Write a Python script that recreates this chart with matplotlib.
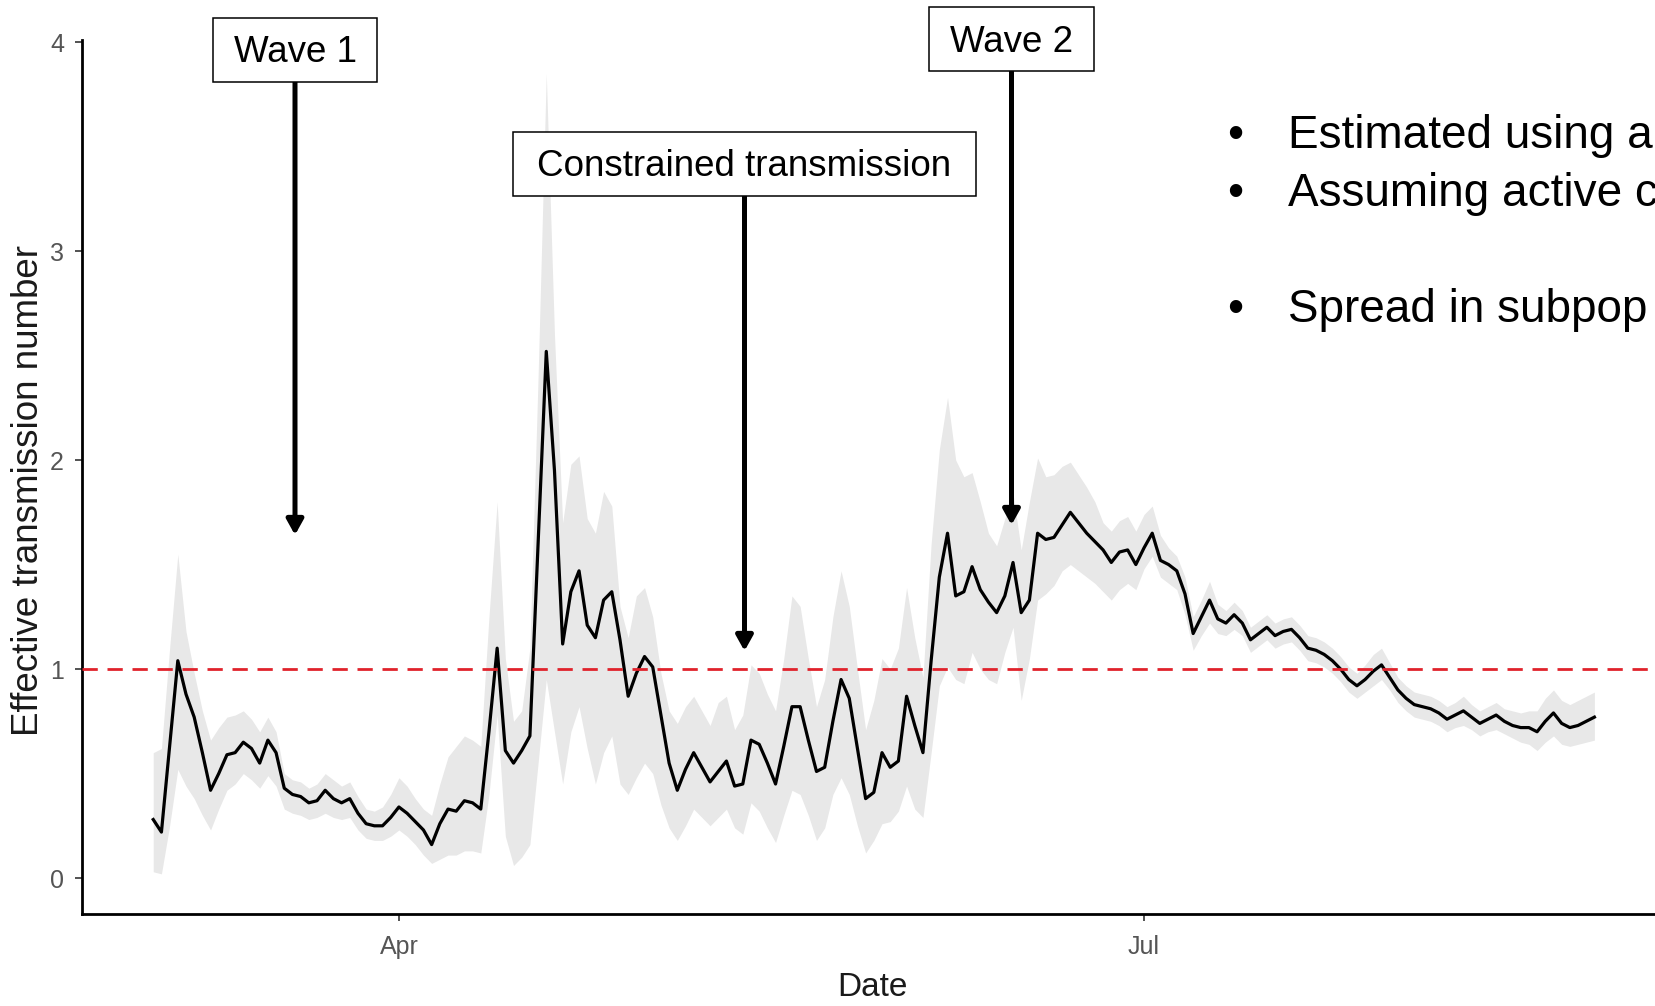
import numpy as np
import matplotlib
matplotlib.use("Agg")
import matplotlib.pyplot as plt
import matplotlib.dates as mdates
from matplotlib.patches import Rectangle

plt.rcParams['font.family'] = ['Liberation Sans', 'DejaVu Sans']

# Daily estimates, first day 2020-03-02
start_date = '2020-03-02'

r_mid = [
    0.28, 0.22, 0.63, 1.04, 0.88, 0.77, 0.60, 0.42, 0.50, 0.59,
    0.60, 0.65, 0.62, 0.55, 0.66, 0.60, 0.43, 0.40, 0.39, 0.36,
    0.37, 0.42, 0.38, 0.36, 0.38, 0.31, 0.26, 0.25, 0.25, 0.29,
    0.34, 0.31, 0.27, 0.23, 0.16, 0.26, 0.33, 0.32, 0.37, 0.36,
    0.33, 0.70, 1.10, 0.61, 0.55, 0.61, 0.68, 1.60, 2.52, 1.95,
    1.12, 1.37, 1.47, 1.21, 1.15, 1.33, 1.37, 1.14, 0.87, 0.98,
    1.06, 1.01, 0.78, 0.55, 0.42, 0.52, 0.60, 0.53, 0.46, 0.51,
    0.56, 0.44, 0.45, 0.66, 0.64, 0.55, 0.45, 0.63, 0.82, 0.82,
    0.66, 0.51, 0.53, 0.75, 0.95, 0.86, 0.62, 0.38, 0.41, 0.60,
    0.53, 0.56, 0.87, 0.73, 0.60, 1.04, 1.44, 1.65, 1.35, 1.37,
    1.49, 1.38, 1.32, 1.27, 1.35, 1.51, 1.27, 1.33, 1.65, 1.62,
    1.63, 1.69, 1.75, 1.70, 1.65, 1.61, 1.57, 1.51, 1.56, 1.57,
    1.50, 1.58, 1.65, 1.52, 1.50, 1.47, 1.36, 1.17, 1.25, 1.33,
    1.24, 1.22, 1.26, 1.22, 1.14, 1.17, 1.20, 1.16, 1.18, 1.19,
    1.15, 1.10, 1.09, 1.07, 1.04, 1.00, 0.95, 0.92, 0.95, 0.99,
    1.02, 0.96, 0.90, 0.86, 0.83, 0.82, 0.81, 0.79, 0.76, 0.78,
    0.80, 0.77, 0.74, 0.76, 0.78, 0.75, 0.73, 0.72, 0.72, 0.70,
    0.75, 0.79, 0.74, 0.72, 0.73, 0.75, 0.77,
]

r_low = [
    0.03, 0.02, 0.25, 0.52, 0.44, 0.38, 0.30, 0.23, 0.33, 0.42,
    0.45, 0.50, 0.47, 0.43, 0.49, 0.44, 0.33, 0.31, 0.30, 0.28,
    0.29, 0.31, 0.29, 0.28, 0.29, 0.23, 0.19, 0.18, 0.18, 0.20,
    0.23, 0.20, 0.16, 0.11, 0.07, 0.09, 0.11, 0.11, 0.13, 0.13,
    0.12, 0.40, 0.78, 0.20, 0.06, 0.10, 0.16, 0.55, 0.95, 0.70,
    0.45, 0.70, 0.82, 0.62, 0.45, 0.60, 0.68, 0.45, 0.40, 0.48,
    0.55, 0.50, 0.35, 0.24, 0.18, 0.25, 0.33, 0.29, 0.25, 0.29,
    0.33, 0.24, 0.21, 0.36, 0.32, 0.24, 0.17, 0.30, 0.42, 0.40,
    0.30, 0.18, 0.24, 0.40, 0.48, 0.40, 0.25, 0.12, 0.18, 0.26,
    0.27, 0.32, 0.44, 0.33, 0.29, 0.60, 0.92, 1.01, 0.95, 0.93,
    1.08, 1.00, 0.95, 0.93, 1.08, 1.20, 0.85, 1.05, 1.33, 1.36,
    1.40, 1.47, 1.50, 1.47, 1.44, 1.41, 1.37, 1.33, 1.38, 1.41,
    1.38, 1.48, 1.54, 1.44, 1.41, 1.38, 1.26, 1.09, 1.16, 1.22,
    1.17, 1.16, 1.19, 1.16, 1.08, 1.11, 1.14, 1.10, 1.12, 1.13,
    1.09, 1.04, 1.03, 1.01, 0.98, 0.94, 0.89, 0.86, 0.89, 0.92,
    0.95, 0.90, 0.84, 0.80, 0.77, 0.76, 0.75, 0.73, 0.70, 0.72,
    0.73, 0.71, 0.68, 0.70, 0.71, 0.69, 0.67, 0.65, 0.64, 0.61,
    0.65, 0.68, 0.64, 0.63, 0.64, 0.65, 0.66,
]

r_high = [
    0.60, 0.62, 1.10, 1.55, 1.18, 0.98, 0.80, 0.66, 0.72, 0.77,
    0.78, 0.80, 0.76, 0.70, 0.77, 0.70, 0.50, 0.47, 0.46, 0.43,
    0.45, 0.50, 0.47, 0.44, 0.46, 0.39, 0.33, 0.32, 0.34, 0.40,
    0.48, 0.44, 0.38, 0.33, 0.30, 0.45, 0.58, 0.63, 0.68, 0.66,
    0.63, 1.25, 1.80, 1.05, 0.75, 0.80, 1.10, 2.40, 3.85, 2.60,
    1.70, 1.98, 2.02, 1.72, 1.65, 1.85, 1.78, 1.30, 1.15, 1.35,
    1.39, 1.25, 0.98, 0.80, 0.74, 0.82, 0.87, 0.80, 0.73, 0.84,
    0.87, 0.71, 0.78, 1.02, 0.98, 0.88, 0.80, 1.05, 1.35, 1.30,
    1.05, 0.82, 0.95, 1.25, 1.47, 1.30, 1.00, 0.71, 0.85, 1.05,
    1.00, 1.10, 1.39, 1.15, 0.96, 1.60, 2.05, 2.30, 2.00, 1.92,
    1.94, 1.80, 1.65, 1.59, 1.72, 1.84, 1.57, 1.80, 2.01, 1.92,
    1.93, 1.97, 1.99, 1.93, 1.87, 1.80, 1.70, 1.66, 1.71, 1.73,
    1.66, 1.74, 1.78, 1.64, 1.58, 1.54, 1.44, 1.25, 1.33, 1.42,
    1.31, 1.28, 1.32, 1.28, 1.20, 1.23, 1.26, 1.22, 1.24, 1.25,
    1.21, 1.16, 1.15, 1.13, 1.10, 1.06, 1.01, 0.98, 1.02, 1.07,
    1.10, 1.03, 0.96, 0.92, 0.89, 0.88, 0.87, 0.85, 0.82, 0.84,
    0.87, 0.83, 0.80, 0.82, 0.84, 0.81, 0.80, 0.79, 0.80, 0.80,
    0.86, 0.90, 0.85, 0.83, 0.85, 0.87, 0.89,
]

threshold = 1.0
bullets = ['Estimated using a', 'Assuming active c', 'Spread in subpop']
boxes = ['Wave 1', 'Constrained transmission', 'Wave 2']

W, H = 1655, 1006


def fx(x):
    return x / W


def fy(y):
    # pixel measured from the top edge -> figure fraction
    return 1 - y / H


dates = np.datetime64(start_date) + np.arange(len(r_mid))

fig = plt.figure(figsize=(W / 100, H / 100), dpi=100)
ax = fig.add_axes([fx(82), 1 - 914 / H, (W - 82) / W, (914 - 40) / H])

# ribbon, line, reference line
ax.fill_between(dates, r_low, r_high, color='#e8e8e8', lw=0, zorder=1)
ax.plot(dates, r_mid, color='black', lw=2.3, zorder=2)
ax.axhline(threshold, color='#e0222b', lw=2.0, dashes=(5.5, 3.5), zorder=3)

apr1 = mdates.date2num(np.datetime64('2020-04-01'))
ax.set_xlim(apr1 - 38.7, apr1 + 153.4)
ax.set_ylim(-0.172, 4.01)

ax.xaxis.set_major_locator(mdates.MonthLocator(bymonth=[4, 7]))
ax.xaxis.set_major_formatter(mdates.DateFormatter('%b'))
ax.set_yticks([0, 1, 2, 3, 4])

for side in ['top', 'right']:
    ax.spines[side].set_visible(False)
for side in ['left', 'bottom']:
    ax.spines[side].set_linewidth(2.0)
    ax.spines[side].set_color('black')

ax.tick_params(axis='both', length=5, width=1.3, color='#444444',
               labelcolor='#555555', labelsize=18)
ax.tick_params(axis='y', pad=8)
ax.tick_params(axis='x', pad=10)

# axis titles
fig.text(fx(29), fy(490), 'Effective transmission number', rotation=90,
         ha='center', va='center', fontsize=26.5, color='#1a1a1a')
fig.text(fx(872), fy(988), 'Date', ha='center', va='center',
         fontsize=24, color='#1a1a1a')

# annotation boxes (left, top, right, bottom in pixels)
box_px = [(213, 18, 377, 82), (513, 132, 976, 196), (929, 7, 1094, 71)]
arrow_px = [(295, 82, 535), (744.5, 196, 651), (1011.5, 71, 525)]

for label, (l, t, r, b) in zip(boxes, box_px):
    fig.patches.append(Rectangle((fx(l), fy(b)), fx(r - l), (b - t) / H,
                                 transform=fig.transFigure, facecolor='white',
                                 edgecolor='black', lw=1.1, zorder=5))
    fig.text(fx((l + r) / 2), fy((t + b) / 2 + 3), label, ha='center',
             va='center', fontsize=26.5, color='black', zorder=6)

for x, y0, y1 in arrow_px:
    ax.annotate('', xy=(fx(x), fy(y1)), xytext=(fx(x), fy(y0)),
                xycoords='figure fraction', textcoords='figure fraction',
                annotation_clip=False,
                arrowprops=dict(arrowstyle='-|>,head_length=0.45,head_width=0.25',
                                lw=3.6, color='black', mutation_scale=20,
                                shrinkA=0, shrinkB=0))

# bullet text at right
for txt, base in zip(bullets, [148, 206, 322]):
    fig.text(fx(1235), fy(base), '\u2022', ha='center', va='baseline',
             fontsize=33, color='black')
    fig.text(fx(1288), fy(base), txt, ha='left', va='baseline',
             fontsize=33, color='black')

fig.savefig('out.png', dpi=100)
